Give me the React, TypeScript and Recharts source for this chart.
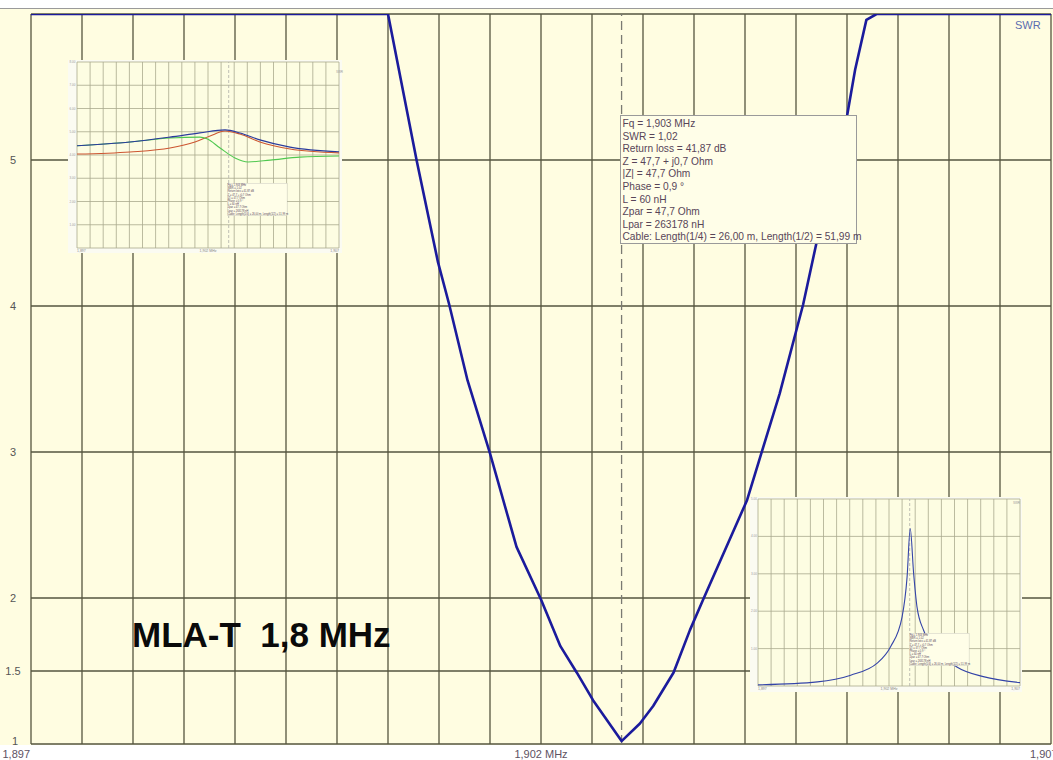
import React from 'react';
import { LineChart, Line, XAxis, YAxis, CartesianGrid, ReferenceLine } from 'recharts';

// ---------- main SWR sweep ----------
const SWR_FREQ = [1.897, 1.9005, 1.90078, 1.90099, 1.9011, 1.90128, 1.9015, 1.90176, 1.902, 1.90219, 1.90235, 1.90251, 1.90279, 1.90297, 1.9031, 1.9033, 1.90346, 1.90359, 1.90402, 1.90416, 1.90434, 1.90457, 1.9047, 1.905, 1.90508, 1.90519, 1.90529, 1.907];
const SWR_VALUES = [6, 6, 5.0, 4.3, 4.01, 3.49, 2.99, 2.35, 1.99, 1.67, 1.49, 1.3, 1.02, 1.14, 1.26, 1.49, 1.78, 1.99, 2.67, 2.99, 3.4, 4.01, 4.43, 5.3, 5.62, 5.96, 6, 6];
const MARKER_FREQ = 1.90279;

const GRID_FREQS = [1.897, 1.8975, 1.898, 1.8985, 1.899, 1.8995, 1.9, 1.9005, 1.901, 1.9015, 1.902, 1.9025, 1.903, 1.9035, 1.904, 1.9045, 1.905, 1.9055, 1.906, 1.9065, 1.907];
const X_LABEL_VALUES = [1.897, 1.902, 1.907];
const X_LABEL_TEXTS = ['1,897', '1,902 MHz', '1,907'];
const Y_TICKS = [1, 1.5, 2, 3, 4, 5, 6];
const Y_LABEL_VALUES = [1, 1.5, 2, 3, 4, 5];
const Y_LABEL_TEXTS = ['1', '1.5', '2', '3', '4', '5'];

const TOOLTIP_LINES = [
  'Fq = 1,903 MHz',
  'SWR = 1,02',
  'Return loss = 41,87 dB',
  'Z = 47,7 + j0,7 Ohm',
  '|Z| = 47,7 Ohm',
  'Phase = 0,9 °',
  'L = 60 nH',
  'Zpar = 47,7 Ohm',
  'Lpar = 263178 nH',
  'Cable: Length(1/4) = 26,00 m, Length(1/2) = 51,99 m',
];
const TITLE = 'MLA-T\u00A0 1,8 MHz';
const SERIES_NAME = 'SWR';

// ---------- inset A (impedance curves) ----------
const INSET_A_BLUE_FREQ = [1.897, 1.89902, 1.90055, 1.90169, 1.90265, 1.90322, 1.90398, 1.90513, 1.907];
const INSET_A_BLUE_VAL = [4.4, 4.56, 4.77, 4.95, 5.08, 4.95, 4.65, 4.34, 4.14];
const INSET_A_RED_FREQ = [1.897, 1.89902, 1.90055, 1.9015, 1.90208, 1.90265, 1.90322, 1.90398, 1.90513, 1.907];
const INSET_A_RED_VAL = [4.04, 4.13, 4.3, 4.56, 4.82, 5.03, 4.9, 4.56, 4.26, 4.09];
const INSET_A_GREEN_FREQ = [1.897, 1.89902, 1.90055, 1.90169, 1.90196, 1.90246, 1.90303, 1.90353, 1.90437, 1.90551, 1.907];
const INSET_A_GREEN_VAL = [4.4, 4.56, 4.73, 4.77, 4.7, 4.3, 3.87, 3.7, 3.78, 3.91, 3.96];
const INSET_A_Y_TICKS = [0, 1, 2, 3, 4, 5, 6, 7, 8];

// ---------- inset B (resonance peak) ----------
const INSET_B_FREQ = [1.897, 1.89927, 1.90054, 1.90155, 1.90206, 1.9025, 1.90269, 1.90281, 1.90294, 1.90307, 1.90332, 1.90383, 1.90459, 1.9056, 1.907];
const INSET_B_VAL = [0.03, 0.11, 0.29, 0.61, 1.05, 1.85, 2.91, 4.21, 3.01, 2.11, 1.49, 0.96, 0.51, 0.25, 0.09];
const INSET_B_Y_TICKS = [0, 1, 2, 3, 4, 5];

const FONT = '"Liberation Sans", Arial, sans-serif';

const zip = (xs: number[], ys: number[]) => xs.map((f, i) => ({ f, v: ys[i] }));

const MainXTick = (p: any) => {
  const v = p.payload?.value;
  const idx = X_LABEL_VALUES.findIndex((l) => Math.abs(l - v) < 1e-7);
  if (idx < 0) return <g />;
  let anchor: any = 'middle';
  let x = p.x;
  if (idx === 0) { anchor = 'end'; x = p.x - 1; }
  if (idx === X_LABEL_VALUES.length - 1) { anchor = 'start'; x = p.x - 21; }
  return (
    <text x={x} y={758} textAnchor={anchor} fontSize={11} fontFamily={FONT} fill="#5e5262">
      {X_LABEL_TEXTS[idx]}
    </text>
  );
};

const MainYTick = (p: any) => {
  const v = p.payload?.value;
  const idx = Y_LABEL_VALUES.findIndex((l) => Math.abs(l - v) < 1e-7);
  if (idx < 0) return <g />;
  const dy = idx === 0 ? 1 : 4;
  return (
    <text x={idx === 0 ? 15 : 13} y={p.y + dy} textAnchor="middle" fontSize={11} fontFamily={FONT} fill="#555">
      {Y_LABEL_TEXTS[idx]}
    </text>
  );
};

const makeTinyXTick = (baseline: number) => (p: any) => {
  const v = p.payload?.value;
  const idx = X_LABEL_VALUES.findIndex((l) => Math.abs(l - v) < 1e-7);
  if (idx < 0) return <g />;
  const anchor = idx === 0 ? 'start' : idx === X_LABEL_VALUES.length - 1 ? 'end' : 'middle';
  return (
    <text x={p.x} y={baseline} textAnchor={anchor} fontSize={3.5} fontFamily={FONT} fill="#888">
      {X_LABEL_TEXTS[idx]}
    </text>
  );
};

const makeTinyYTick = (cx: number) => (p: any) => {
  const v = p.payload?.value;
  if (v === 0) return <g />;
  return (
    <text x={cx} y={p.y + 1} textAnchor="middle" fontSize={3} fontFamily={FONT} fill="#999">
      {v.toFixed(2)}
    </text>
  );
};

const TooltipBox = ({ tx, ty, s }: { tx: number; ty: number; s: number }) => (
  <g transform={`translate(${tx},${ty}) scale(${s})`}>
    <rect x={0.5} y={0.5} width={236} height={128} fill="#FFFEE8" stroke="#9a9a9a" strokeWidth={1} />
    {TOOLTIP_LINES.map((t, i) => (
      <text key={i} x={2.5} y={12 + i * 12.6} fontSize={10.2} fontFamily={FONT} fill="#584558">
        {t}
      </text>
    ))}
  </g>
);

function InsetA() {
  return (
    <div style={{ position: 'absolute', left: 68, top: 60, width: 274, height: 193, background: '#fbfbf2' }}>
      <LineChart width={274} height={193} margin={{ top: 2, right: 3, bottom: 0, left: 0 }}>
        <CartesianGrid stroke="#a9a98e" strokeWidth={0.8} fill="#FDFDE2" />
        <XAxis dataKey="f" type="number" domain={[1.897, 1.907]} ticks={GRID_FREQS} interval={0} height={5}
          tickLine={false} axisLine={false} tick={makeTinyXTick(191.5)} allowDataOverflow />
        <YAxis type="number" domain={[0, 8]} ticks={INSET_A_Y_TICKS} interval={0} width={9}
          tickLine={false} axisLine={false} tick={makeTinyYTick(4.5)} allowDataOverflow />
        <ReferenceLine x={MARKER_FREQ} stroke="#b0b0a8" strokeDasharray="3 2" strokeWidth={0.8} />
        <Line data={zip(INSET_A_RED_FREQ, INSET_A_RED_VAL)} dataKey="v" type="monotone" stroke="#cc5530" strokeWidth={1.1} dot={false} isAnimationActive={false} />
        <Line data={zip(INSET_A_GREEN_FREQ, INSET_A_GREEN_VAL)} dataKey="v" type="monotone" stroke="#50c850" strokeWidth={1.1} dot={false} isAnimationActive={false} />
        <Line data={zip(INSET_A_BLUE_FREQ, INSET_A_BLUE_VAL)} dataKey="v" type="monotone" stroke="#2a3a9c" strokeWidth={1.1} dot={false} isAnimationActive={false} />
      </LineChart>
    </div>
  );
}

function InsetB() {
  return (
    <div style={{ position: 'absolute', left: 750, top: 497, width: 272, height: 195, background: '#fbfbf2' }}>
      <LineChart width={272} height={195} margin={{ top: 2, right: 2, bottom: 0, left: 0 }}>
        <CartesianGrid stroke="#a9a98e" strokeWidth={0.8} fill="#FDFDE2" />
        <XAxis dataKey="f" type="number" domain={[1.897, 1.907]} ticks={GRID_FREQS} interval={0} height={6}
          tickLine={false} axisLine={false} tick={makeTinyXTick(193)} allowDataOverflow />
        <YAxis type="number" domain={[0, 5]} ticks={INSET_B_Y_TICKS} interval={0} width={8}
          tickLine={false} axisLine={false} tick={makeTinyYTick(4)} allowDataOverflow />
        <ReferenceLine x={MARKER_FREQ} stroke="#b0b0a8" strokeDasharray="3 2" strokeWidth={0.8} />
        <Line data={zip(INSET_B_FREQ, INSET_B_VAL)} dataKey="v" type="monotone" stroke="#3444a8" strokeWidth={1.1} dot={false} isAnimationActive={false} />
      </LineChart>
    </div>
  );
}

export default function App() {
  const data = zip(SWR_FREQ, SWR_VALUES);
  return (
    <div style={{ position: 'absolute', left: 0, top: 0, width: 1053, height: 760, overflow: 'hidden', background: '#ffffff' }}>
      <div style={{ position: 'absolute', left: 0, top: 9, width: 1053, height: 736, background: '#FFFDE1' }} />
      <div style={{ position: 'absolute', left: 0, top: 8, width: 1053, height: 1, background: '#9a9a9a' }} />
      <div style={{ position: 'absolute', left: 0, top: 0 }}>
        <LineChart width={1053} height={760} data={data} margin={{ top: 14, right: 2, bottom: 0, left: 0 }}>
          <CartesianGrid stroke="#55553f" strokeWidth={1.3} />
          <XAxis dataKey="f" type="number" domain={[1.897, 1.907]} ticks={GRID_FREQS} interval={0} height={16}
            tickLine={false} axisLine={false} tick={MainXTick} allowDataOverflow />
          <YAxis type="number" domain={[1, 6]} ticks={Y_TICKS} interval={0} width={31}
            tickLine={false} axisLine={false} tick={MainYTick} allowDataOverflow />
          <ReferenceLine x={MARKER_FREQ} stroke="#7a7a72" strokeDasharray="9 5" strokeWidth={1.3} />
          <Line dataKey="v" name={SERIES_NAME} type="linear" stroke="#1b1b9c" strokeWidth={2.6} dot={false}
            strokeLinejoin="round" isAnimationActive={false} />
        </LineChart>
      </div>
      <InsetA />
      <InsetB />
      <svg width={1053} height={760} style={{ position: 'absolute', left: 0, top: 0, pointerEvents: 'none' }}>
        <TooltipBox tx={620} ty={115} s={1} />
        <TooltipBox tx={227} ty={183} s={0.254} />
        <TooltipBox tx={909} ty={633} s={0.254} />
        <text x={1015} y={29} fontSize={11} fontFamily={FONT} fill="#5a6cb0">{SERIES_NAME}</text>
        <text x={336} y={73} fontSize={3} fontFamily={FONT} fill="#999">{SERIES_NAME}</text>
        <text x={1013} y={504} fontSize={3} fontFamily={FONT} fill="#999">{SERIES_NAME}</text>
        <text x={132} y={647} fontSize={35} fontWeight="bold" fontFamily={FONT} fill="#0a0a0a">{TITLE}</text>
      </svg>
    </div>
  );
}
